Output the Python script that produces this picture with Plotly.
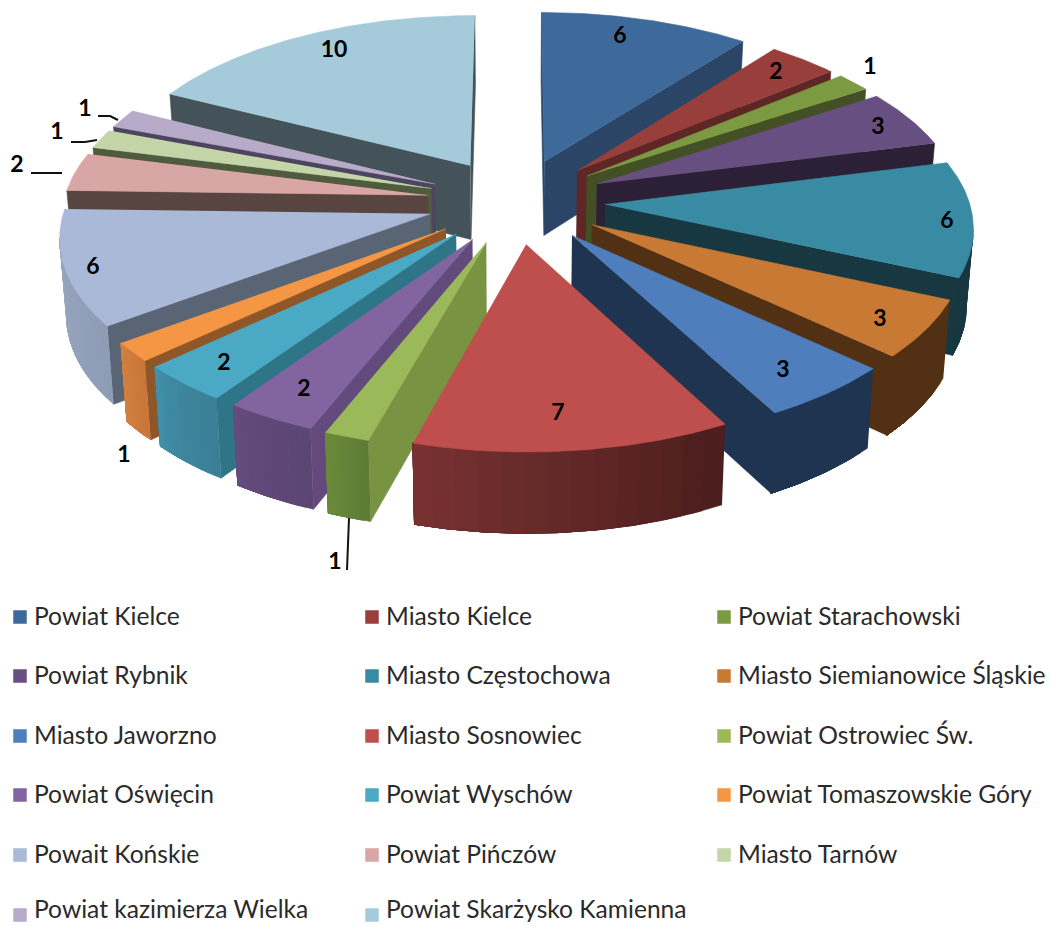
import numpy as np
import plotly.graph_objects as go

names = ["Powiat Kielce", "Miasto Kielce", "Powiat Starachowski", "Powiat Rybnik", "Miasto Częstochowa",
         "Miasto Siemianowice Śląskie", "Miasto Jaworzno", "Miasto Sosnowiec", "Powiat Ostrowiec Św.",
         "Powiat Oświęcin", "Powiat Wyschów", "Powiat Tomaszowskie Góry", "Powait Końskie", "Powiat Pińczów",
         "Miasto Tarnów", "Powiat kazimierza Wielka", "Powiat Skarżysko Kamienna"]
values = [6, 2, 1, 3, 6, 3, 3, 7, 1, 2, 2, 1, 6, 2, 1, 1, 10]

top_colors = ["#3E6A9B", "#983E3B", "#7B9A41", "#684F82", "#398BA3", "#C87934", "#4E7EBB", "#BE4F4C", "#9ABA59",
              "#8164A0", "#4AAAC5", "#F59645", "#A9B9D7", "#D8A6A5", "#C4D6A8", "#B7ABC9", "#A5CBDA"]
radial_colors = ["#2A4565", "#5E2624", "#434F25", "#2C2036", "#173741", "#523013", "#1F3450", "#5A2423", "#789341",
                 "#624B7C", "#2E7588", "#8F5728", "#596575", "#584541", "#4F5A3F", "#4D4460", "#445359"]
arc_left = ["#2A4565", "#5E2624", "#434F25", "#2C2036", "#173741", "#523013", "#1F3450", "#773131", "#6A8A3A",
            "#644C7E", "#418FA8", "#D08040", "#98A6C0", "#584541", "#4F5A3F", "#4D4460", "#445359"]
arc_right = ["#2A4565", "#5E2624", "#434F25", "#2C2036", "#173741", "#523013", "#1F3450", "#4C1E1D", "#5F7C36",
             "#5B4572", "#3A7F96", "#C9763A", "#8E9CB6", "#584541", "#4F5A3F", "#4D4460", "#445359"]

label_x = [620, 776, 870, 878, 947, 880, 783, 558, 335, 304, 224, 124, 93, 17, 57, 85, 334]
label_y = [37, 73, 68, 128, 222, 320, 371, 414, 563, 390, 364, 456, 268, 166, 133, 110, 51]
leaders = [((349, 347), (518, 570)), ((31, 62), (173, 173)), ((71, 85, 97), (142, 142, 140)), ((98, 110, 118), (116, 116, 120))]

CX, CY = 516, 201
RX, RY = 364, 174
PERSP = 0.111
EXPLODE = 0.245
DEPTH = 75


def project(u, v, bottom=False):
    w = 1 / (1 - PERSP * v)
    x = CX + RX * u * w
    y = CY + RY * v * w
    if bottom:
        x = CX + (x - CX) * 0.985
        y = y + DEPTH + 5 * v
    return x, y


def hexmix(a, b, t):
    ca = [int(a[i:i + 2], 16) for i in (1, 3, 5)]
    cb = [int(b[i:i + 2], 16) for i in (1, 3, 5)]
    return "#%02X%02X%02X" % tuple(round(p + (q - p) * t) for p, q in zip(ca, cb))


fig = go.Figure()


def poly(xs, ys, color):
    fig.add_trace(go.Scatter(x=list(xs), y=list(ys), mode="lines", fill="toself", fillcolor=color,
                             line=dict(color=color, width=0.6), hoverinfo="skip", showlegend=False))


total = sum(values)
edges = np.cumsum([0] + values) / total * 2 * np.pi
mids = (edges[:-1] + edges[1:]) / 2
order = sorted(range(len(values)), key=lambda i: -np.cos(mids[i]))

for i in order:
    a = np.linspace(edges[i], edges[i + 1], max(16, values[i] * 12))
    du, dv = EXPLODE * np.sin(mids[i]), -EXPLODE * np.cos(mids[i])
    u, v = du + np.sin(a), dv - np.cos(a)
    xt, yt = project(u, v)
    xb, yb = project(u, v, True)
    tx, ty = project(np.array([du]), np.array([dv]))
    bx, by = project(np.array([du]), np.array([dv]), True)
    # visible radial walls
    if xt[0] < tx[0]:
        poly([tx[0], xt[0], xb[0], bx[0]], [ty[0], yt[0], yb[0], by[0]], radial_colors[i])
    if xt[-1] > tx[0]:
        poly([tx[0], xt[-1], xb[-1], bx[0]], [ty[0], yt[-1], yb[-1], by[0]], radial_colors[i])
    # visible outer wall, painted as overlapping colour bands from right to left
    vis = np.where(np.diff(xt) < 0)[0]
    if len(vis):
        end = vis[-1] + 1
        n_bands = min(14, len(vis))
        starts = [b[0] for b in np.array_split(vis, n_bands)]
        for k, s in enumerate(starts):
            t = 1 - k / max(1, n_bands - 1)
            c = hexmix(arc_left[i], arc_right[i], t)
            poly(list(xt[s:end + 1]) + list(xb[s:end + 1][::-1]), list(yt[s:end + 1]) + list(yb[s:end + 1][::-1]), c)
    # top face
    poly([tx[0]] + list(xt), [ty[0]] + list(yt), top_colors[i])

for lx, ly in leaders:
    fig.add_trace(go.Scatter(x=lx, y=ly, mode="lines", line=dict(color="#111111", width=2), hoverinfo="skip",
                             showlegend=False))

fig.add_trace(go.Scatter(x=label_x, y=label_y, text=[str(n) for n in values], mode="text",
                         textposition="middle center", hoverinfo="skip", showlegend=False,
                         textfont=dict(family="Lato", size=23, color="#000000", weight=700)))

# legend, three columns
col_x = [20, 372, 724]
row_y = [617, 676, 736, 795, 855, 915]
text_y = [619, 678, 738, 797, 857, 912]
lg_x = [col_x[k % 3] for k in range(len(names))]
lg_y = [row_y[k // 3] for k in range(len(names))]
lg_ty = [text_y[k // 3] for k in range(len(names))]
fig.add_trace(go.Scatter(x=lg_x, y=lg_y, mode="markers", hoverinfo="skip", showlegend=False,
                         marker=dict(symbol="square", size=14, color=top_colors,
                                     line=dict(color="rgba(255,255,255,0.5)", width=1))))
fig.add_trace(go.Scatter(x=[p + 14 for p in lg_x], y=lg_ty, text=names, mode="text",
                         textposition="middle right", hoverinfo="skip", showlegend=False,
                         textfont=dict(family="Lato", size=24.6, color="#2A2A2A")))

fig.update_layout(width=1051, height=926, margin=dict(l=0, r=0, t=0, b=0), paper_bgcolor="#FFFFFF",
                  plot_bgcolor="#FFFFFF", showlegend=False,
                  xaxis=dict(range=[0, 1051], visible=False, fixedrange=True),
                  yaxis=dict(range=[926, 0], visible=False, fixedrange=True))
fig.write_html("out.html", config=dict(displayModeBar=False),
               post_script="document.body.style.margin='0';document.body.style.overflow='hidden';")
